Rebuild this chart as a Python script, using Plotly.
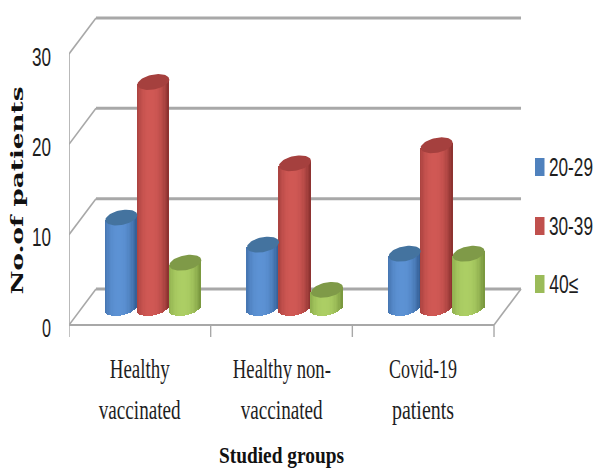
import json
import numpy as np
import plotly.graph_objects as go

# Chart content
CATEGORIES = [("Healthy", "vaccinated"), ("Healthy non-", "vaccinated"), ("Covid-19", "patients")]
SERIES = ["20-29", "30-39", "40≤"]
VAL_20_29 = [10, 7, 6]
VAL_30_39 = [25, 16, 18]
VAL_40_PLUS = [5, 2, 6]
Y_TICKS = [0, 10, 20, 30]
X_TITLE = "Studied groups"
Y_TITLE = "No.of patients"

VALUES = [VAL_20_29, VAL_30_39, VAL_40_PLUS]

# Per-series cylinder shading: light body, dark edge, cap tone
STYLES = [
    dict(mid=(92, 146, 212), dark=(50, 92, 146), cap="#44739F", swatch="#4F81BD"),
    dict(mid=(208, 88, 84), dark=(136, 48, 46), cap="#A5403E", swatch="#C0504D"),
    dict(mid=(172, 206, 100), dark=(118, 148, 60), cap="#7F9A48", swatch="#9BBB59"),
]

W, H = 596, 470
M_L, M_R, M_T, M_B = 69, 74, 10, 133
PX_PER_CAT = 141.67
PX_PER_UNIT = 9.035

plot_w = W - M_L - M_R
plot_h = H - M_T - M_B
x_range = [-0.5, -0.5 + plot_w / PX_PER_CAT]
y_low = -(H - M_B - 325) / PX_PER_UNIT
y_range = [y_low, y_low + plot_h / PX_PER_UNIT]


def paper_x(px):
    return (px - M_L) / plot_w


def paper_y(py):
    return 1 - (py - M_T) / plot_h


# Oblique projection of the chart's depth
DEPTH_X = 27 / PX_PER_CAT
DEPTH_Y = 36 / PX_PER_UNIT
FRONT_RIGHT = 2.5

# Cylinder proportions
CYL_W = 32 / PX_PER_CAT
CAP_E = 7.5 / PX_PER_UNIT
TILT = 0.16 * PX_PER_CAT / PX_PER_UNIT
STRIPS = 24


def shade(style, t):
    k = min(1.0, abs(t + 0.12) / 1.12) ** 2.4
    return "rgb(%d,%d,%d)" % tuple(
        round(m + (d - m) * k) for m, d in zip(style["mid"], style["dark"])
    )


fig = go.Figure()

# Wall and floor lines sit beneath the cylinders
GREY = "#A8A8A8"
shapes = []


def seg(x0, y0, x1, y1, width):
    shapes.append(dict(type="line", x0=x0, y0=y0, x1=x1, y1=y1, layer="below",
                       line=dict(color=GREY, width=width)))


for tick in Y_TICKS:
    seg(-0.5 + DEPTH_X, tick + DEPTH_Y, FRONT_RIGHT + DEPTH_X, tick + DEPTH_Y, 3)
    seg(-0.5, tick, -0.5 + DEPTH_X, tick + DEPTH_Y, 1.6)
    seg(-0.5 - 5 / PX_PER_CAT, tick, -0.5, tick, 1.4)
seg(-0.5, 0, -0.5, Y_TICKS[-1], 1.6)
seg(-0.5, 0, FRONT_RIGHT, 0, 2)
seg(FRONT_RIGHT, 0, FRONT_RIGHT + DEPTH_X, DEPTH_Y, 1.6)
for boundary in (-0.5, 0.5, 1.5, 2.5):
    seg(boundary, 0, boundary, -12 / PX_PER_UNIT, 1.4)

# Cylinder bodies as narrow bars, capped with tilted ellipses
base_c = DEPTH_Y / 2 - 0.1
for s, (name, vals, style) in enumerate(zip(SERIES, VALUES, STYLES)):
    xs, bases, heights, colors = [], [], [], []
    ts = (np.arange(STRIPS) + 0.5) / STRIPS * 2 - 1
    for g, v in enumerate(vals):
        cx = g + DEPTH_X / 2 + (s - 1) * CYL_W
        for t in ts:
            dx = t * CYL_W / 2
            bottom = base_c + TILT * dx - CAP_E * np.sqrt(1 - t * t)
            top = base_c + v + TILT * dx
            xs.append(cx + dx)
            bases.append(bottom)
            heights.append(top - bottom)
            colors.append(shade(style, t))
    fig.add_trace(go.Bar(x=xs, y=heights, base=bases, width=CYL_W / STRIPS * 1.2,
                         marker=dict(color=colors, line=dict(width=0)),
                         name=name, showlegend=False, hoverinfo="skip"))

for s, (vals, style) in enumerate(zip(VALUES, STYLES)):
    for g, v in enumerate(vals):
        cx = g + DEPTH_X / 2 + (s - 1) * CYL_W
        a = np.linspace(0, 2 * np.pi, 61)
        ex = CYL_W / 2 * np.cos(a)
        ey = base_c + v + TILT * ex + CAP_E * np.sin(a)
        fig.add_trace(go.Scatter(x=cx + ex, y=ey, mode="lines", fill="toself",
                                 fillcolor=style["cap"], line=dict(width=0),
                                 showlegend=False, hoverinfo="skip"))

SANS = "Liberation Sans, sans-serif"
SERIF = "Liberation Serif, serif"
INK = "#1E1E1E"
annotations = []

# Set widths for the condensed lettering, in pixels
TEXT_WIDTHS = {
    "Healthy": 60, "vaccinated": 82, "Healthy non-": 98, "Covid-19": 68, "patients": 62,
    X_TITLE: 125, Y_TITLE: 208, "30": 19, "20": 19, "10": 19, "0": 9,
    "20-29": 44, "30-39": 44, "40≤": 29,
}

# Two-line category labels with wide leading
for g, lines in enumerate(CATEGORIES):
    for line, ypx in zip(lines, (369, 410)):
        annotations.append(dict(text=line, x=g, xref="x", y=paper_y(ypx), yref="paper",
                                showarrow=False, xanchor="center", yanchor="middle",
                                font=dict(family=SERIF, size=27, color=INK)))

annotations.append(dict(text=X_TITLE, x=paper_x(281), xref="paper",
                        y=paper_y(455), yref="paper", showarrow=False,
                        xanchor="center", yanchor="middle",
                        font=dict(family=SERIF, size=24, weight="bold", color="#111111")))
annotations.append(dict(text=Y_TITLE, x=paper_x(17), xref="paper",
                        y=paper_y(191), yref="paper", showarrow=False, textangle=-90,
                        xanchor="center", yanchor="middle",
                        font=dict(family="DejaVu Serif, serif", size=17, weight="bold",
                                  color="#111111")))

# Key at the right edge
for name, style, ypx in zip(SERIES, STYLES, (167, 226, 284)):
    shapes.append(dict(type="rect", xref="paper", yref="paper",
                       x0=paper_x(535), x1=paper_x(544.5), y0=paper_y(ypx + 9), y1=paper_y(ypx - 9),
                       fillcolor=style["swatch"], line=dict(width=0)))
    annotations.append(dict(text=name, x=paper_x(549 + TEXT_WIDTHS[name] / 2), xref="paper",
                            y=paper_y(ypx), yref="paper",
                            xanchor="center", yanchor="middle", showarrow=False,
                            font=dict(family=SANS, size=25, color=INK)))

fig.update_layout(
    width=W, height=H, autosize=False,
    margin=dict(l=M_L, r=M_R, t=M_T, b=M_B, pad=0),
    paper_bgcolor="white", plot_bgcolor="white",
    barmode="overlay", bargap=0,
    showlegend=False,
    shapes=shapes, annotations=annotations,
    xaxis=dict(range=x_range, showgrid=False, zeroline=False, showline=False,
               showticklabels=False, ticks=""),
    yaxis=dict(range=y_range, showgrid=False, zeroline=False, showline=False,
               tickmode="array", tickvals=Y_TICKS, ticks="", ticklen=0,
               ticklabelstandoff=17, ticklabelshift=3,
               tickfont=dict(family=SANS, size=25, color=INK)),
)

# Fit each string to its set width once the page has drawn
FIT_TEXT = """
var widths = %s;
document.getElementById('{plot_id}').querySelectorAll('svg text').forEach(function (el) {
  var w = widths[el.textContent];
  if (w) { el.setAttribute('textLength', w); el.setAttribute('lengthAdjust', 'spacingAndGlyphs'); }
});
""" % json.dumps(TEXT_WIDTHS, ensure_ascii=False)

fig.write_html("out.html", config=dict(displayModeBar=False), post_script=FIT_TEXT)
